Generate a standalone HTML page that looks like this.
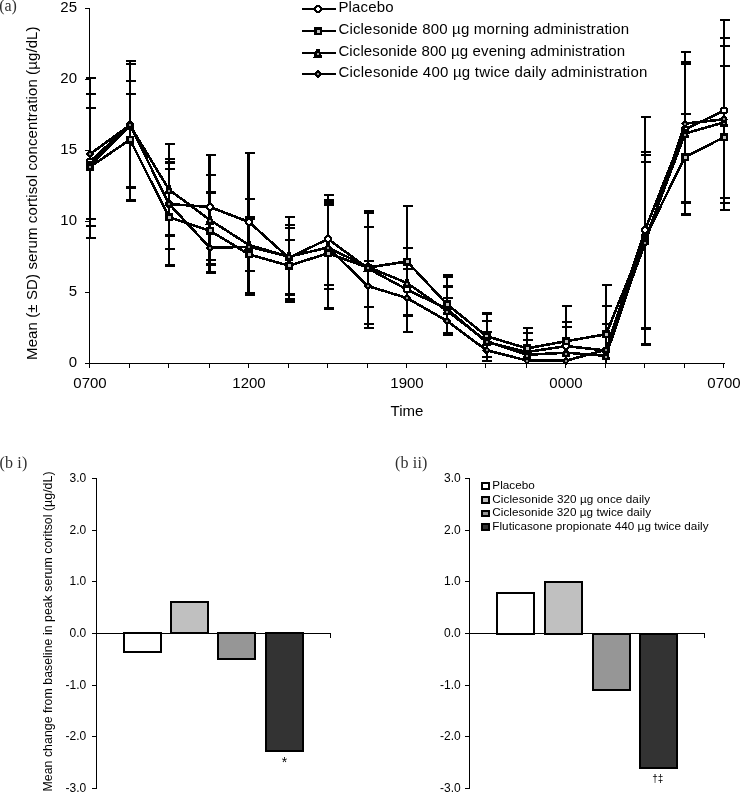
<!DOCTYPE html>
<html><head><meta charset="utf-8"><style>
html,body{margin:0;padding:0;background:#fff;overflow:hidden;}
svg{display:block;will-change:transform;} line,polyline,rect,circle,path{shape-rendering:crispEdges;}
text{font-family:"Liberation Sans",sans-serif;fill:#000;}
.s15{font-size:15px;}
.s12{font-size:12.3px;}
.s11{font-size:11.7px;}
.s10{font-size:10px;}
.s12t{font-size:12px;}
.star{font-size:14px;}
.lg{font-size:15px;}
.serif{font-family:"Liberation Serif",serif;font-size:16px;fill:#303030;}
</style></head><body>
<svg width="740" height="793" viewBox="0 0 740 793">
<g stroke="#000" stroke-width="1" fill="none">
<line x1="89.5" y1="8" x2="89.5" y2="364"/>
<line x1="85" y1="363.5" x2="725" y2="363.5"/>
<line x1="85" y1="363.5" x2="89.5" y2="363.5"/>
<line x1="85" y1="292.5" x2="89.5" y2="292.5"/>
<line x1="85" y1="221.5" x2="89.5" y2="221.5"/>
<line x1="85" y1="150.5" x2="89.5" y2="150.5"/>
<line x1="85" y1="79.5" x2="89.5" y2="79.5"/>
<line x1="85" y1="8.5" x2="89.5" y2="8.5"/>
<line x1="89.5" y1="363.5" x2="89.5" y2="368"/>
<line x1="129.5" y1="363.5" x2="129.5" y2="368"/>
<line x1="168.5" y1="363.5" x2="168.5" y2="368"/>
<line x1="209.5" y1="363.5" x2="209.5" y2="368"/>
<line x1="248.5" y1="363.5" x2="248.5" y2="368"/>
<line x1="288.5" y1="363.5" x2="288.5" y2="368"/>
<line x1="327.5" y1="363.5" x2="327.5" y2="368"/>
<line x1="367.5" y1="363.5" x2="367.5" y2="368"/>
<line x1="406.5" y1="363.5" x2="406.5" y2="368"/>
<line x1="446.5" y1="363.5" x2="446.5" y2="368"/>
<line x1="485.5" y1="363.5" x2="485.5" y2="368"/>
<line x1="526.5" y1="363.5" x2="526.5" y2="368"/>
<line x1="565.5" y1="363.5" x2="565.5" y2="368"/>
<line x1="605.5" y1="363.5" x2="605.5" y2="368"/>
<line x1="644.5" y1="363.5" x2="644.5" y2="368"/>
<line x1="684.5" y1="363.5" x2="684.5" y2="368"/>
<line x1="723.5" y1="363.5" x2="723.5" y2="368"/>
</g>
<g stroke="#000" stroke-width="2" fill="none">
<line x1="90" y1="77.9" x2="90" y2="237.8"/>
<line x1="85.5" y1="77.9" x2="95.5" y2="77.9"/>
<line x1="85.5" y1="93.9" x2="95.5" y2="93.9"/>
<line x1="85.5" y1="107.9" x2="95.5" y2="107.9"/>
<line x1="85.5" y1="218.9" x2="95.5" y2="218.9"/>
<line x1="85.5" y1="225.9" x2="95.5" y2="225.9"/>
<line x1="85.5" y1="237.8" x2="95.5" y2="237.8"/>
<line x1="130" y1="60.7" x2="130" y2="201"/>
<line x1="125.5" y1="60.7" x2="135.5" y2="60.7"/>
<line x1="125.5" y1="63.8" x2="135.5" y2="63.8"/>
<line x1="125.5" y1="81" x2="135.5" y2="81"/>
<line x1="125.5" y1="93.9" x2="135.5" y2="93.9"/>
<line x1="125.5" y1="187.1" x2="135.5" y2="187.1"/>
<line x1="125.5" y1="188.1" x2="135.5" y2="188.1"/>
<line x1="125.5" y1="200" x2="135.5" y2="200"/>
<line x1="125.5" y1="201" x2="135.5" y2="201"/>
<line x1="169" y1="143.8" x2="169" y2="265.9"/>
<line x1="164.5" y1="143.8" x2="174.5" y2="143.8"/>
<line x1="164.5" y1="158.8" x2="174.5" y2="158.8"/>
<line x1="164.5" y1="162.3" x2="174.5" y2="162.3"/>
<line x1="164.5" y1="163.3" x2="174.5" y2="163.3"/>
<line x1="164.5" y1="168.9" x2="174.5" y2="168.9"/>
<line x1="164.5" y1="234.8" x2="174.5" y2="234.8"/>
<line x1="164.5" y1="235.8" x2="174.5" y2="235.8"/>
<line x1="164.5" y1="249.1" x2="174.5" y2="249.1"/>
<line x1="164.5" y1="264.9" x2="174.5" y2="264.9"/>
<line x1="164.5" y1="265.9" x2="174.5" y2="265.9"/>
<line x1="209.5" y1="154.9" x2="209.5" y2="272.8" stroke-width="3"/>
<line x1="205.5" y1="154.9" x2="215.5" y2="154.9"/>
<line x1="205.5" y1="174.9" x2="215.5" y2="174.9"/>
<line x1="205.5" y1="191.8" x2="215.5" y2="191.8"/>
<line x1="205.5" y1="192.8" x2="215.5" y2="192.8"/>
<line x1="205.5" y1="259.9" x2="215.5" y2="259.9"/>
<line x1="205.5" y1="263.9" x2="215.5" y2="263.9"/>
<line x1="205.5" y1="264.9" x2="215.5" y2="264.9"/>
<line x1="205.5" y1="271.8" x2="215.5" y2="271.8"/>
<line x1="205.5" y1="272.8" x2="215.5" y2="272.8"/>
<line x1="248.5" y1="152.9" x2="248.5" y2="295" stroke-width="3"/>
<line x1="244.5" y1="152.9" x2="254.5" y2="152.9"/>
<line x1="244.5" y1="198.8" x2="254.5" y2="198.8"/>
<line x1="244.5" y1="217" x2="254.5" y2="217"/>
<line x1="244.5" y1="219" x2="254.5" y2="219"/>
<line x1="244.5" y1="270.9" x2="254.5" y2="270.9"/>
<line x1="244.5" y1="293" x2="254.5" y2="293"/>
<line x1="244.5" y1="294" x2="254.5" y2="294"/>
<line x1="244.5" y1="295" x2="254.5" y2="295"/>
<line x1="289" y1="216.9" x2="289" y2="302"/>
<line x1="284.5" y1="216.9" x2="294.5" y2="216.9"/>
<line x1="284.5" y1="224.9" x2="294.5" y2="224.9"/>
<line x1="284.5" y1="227.9" x2="294.5" y2="227.9"/>
<line x1="284.5" y1="240" x2="294.5" y2="240"/>
<line x1="284.5" y1="293.9" x2="294.5" y2="293.9"/>
<line x1="284.5" y1="294.9" x2="294.5" y2="294.9"/>
<line x1="284.5" y1="299" x2="294.5" y2="299"/>
<line x1="284.5" y1="300.5" x2="294.5" y2="300.5"/>
<line x1="284.5" y1="302" x2="294.5" y2="302"/>
<line x1="328" y1="194.7" x2="328" y2="308.9"/>
<line x1="323.5" y1="194.7" x2="333.5" y2="194.7"/>
<line x1="323.5" y1="200" x2="333.5" y2="200"/>
<line x1="323.5" y1="202" x2="333.5" y2="202"/>
<line x1="323.5" y1="204" x2="333.5" y2="204"/>
<line x1="323.5" y1="205" x2="333.5" y2="205"/>
<line x1="323.5" y1="285" x2="333.5" y2="285"/>
<line x1="323.5" y1="288.9" x2="333.5" y2="288.9"/>
<line x1="323.5" y1="307.9" x2="333.5" y2="307.9"/>
<line x1="323.5" y1="308.9" x2="333.5" y2="308.9"/>
<line x1="368" y1="211" x2="368" y2="327.9"/>
<line x1="363.5" y1="211" x2="373.5" y2="211"/>
<line x1="363.5" y1="212.5" x2="373.5" y2="212.5"/>
<line x1="363.5" y1="227" x2="373.5" y2="227"/>
<line x1="363.5" y1="261.1" x2="373.5" y2="261.1"/>
<line x1="363.5" y1="306.9" x2="373.5" y2="306.9"/>
<line x1="363.5" y1="323.5" x2="373.5" y2="323.5"/>
<line x1="363.5" y1="327.9" x2="373.5" y2="327.9"/>
<line x1="407" y1="206.4" x2="407" y2="332.1"/>
<line x1="402.5" y1="206.4" x2="412.5" y2="206.4"/>
<line x1="402.5" y1="248.4" x2="412.5" y2="248.4"/>
<line x1="402.5" y1="268.9" x2="412.5" y2="268.9"/>
<line x1="402.5" y1="314.5" x2="412.5" y2="314.5"/>
<line x1="402.5" y1="316" x2="412.5" y2="316"/>
<line x1="402.5" y1="332.1" x2="412.5" y2="332.1"/>
<line x1="447" y1="275" x2="447" y2="335"/>
<line x1="442.5" y1="275" x2="452.5" y2="275"/>
<line x1="442.5" y1="277" x2="452.5" y2="277"/>
<line x1="442.5" y1="285.9" x2="452.5" y2="285.9"/>
<line x1="442.5" y1="286.9" x2="452.5" y2="286.9"/>
<line x1="442.5" y1="298" x2="452.5" y2="298"/>
<line x1="442.5" y1="333" x2="452.5" y2="333"/>
<line x1="442.5" y1="335" x2="452.5" y2="335"/>
<line x1="486.5" y1="312.8" x2="486.5" y2="361.1"/>
<line x1="482" y1="312.8" x2="492" y2="312.8"/>
<line x1="482" y1="313.8" x2="492" y2="313.8"/>
<line x1="482" y1="320.9" x2="492" y2="320.9"/>
<line x1="482" y1="331.9" x2="492" y2="331.9"/>
<line x1="482" y1="357.3" x2="492" y2="357.3"/>
<line x1="482" y1="361.1" x2="492" y2="361.1"/>
<line x1="527" y1="327.9" x2="527" y2="363.2"/>
<line x1="522.5" y1="327.9" x2="532.5" y2="327.9"/>
<line x1="522.5" y1="332.9" x2="532.5" y2="332.9"/>
<line x1="522.5" y1="339.8" x2="532.5" y2="339.8"/>
<line x1="566" y1="305.9" x2="566" y2="363.2"/>
<line x1="561.5" y1="305.9" x2="571.5" y2="305.9"/>
<line x1="561.5" y1="322" x2="571.5" y2="322"/>
<line x1="561.5" y1="326.9" x2="571.5" y2="326.9"/>
<line x1="606" y1="285" x2="606" y2="363.2"/>
<line x1="601.5" y1="285" x2="611.5" y2="285"/>
<line x1="601.5" y1="305.8" x2="611.5" y2="305.8"/>
<line x1="601.5" y1="323.5" x2="611.5" y2="323.5"/>
<line x1="645" y1="116.8" x2="645" y2="344.8"/>
<line x1="640.5" y1="116.8" x2="650.5" y2="116.8"/>
<line x1="640.5" y1="151.9" x2="650.5" y2="151.9"/>
<line x1="640.5" y1="154.7" x2="650.5" y2="154.7"/>
<line x1="640.5" y1="162" x2="650.5" y2="162"/>
<line x1="640.5" y1="328" x2="650.5" y2="328"/>
<line x1="640.5" y1="329" x2="650.5" y2="329"/>
<line x1="640.5" y1="343.8" x2="650.5" y2="343.8"/>
<line x1="640.5" y1="344.8" x2="650.5" y2="344.8"/>
<line x1="685" y1="51.8" x2="685" y2="215"/>
<line x1="680.5" y1="51.8" x2="690.5" y2="51.8"/>
<line x1="680.5" y1="62.3" x2="690.5" y2="62.3"/>
<line x1="680.5" y1="63.9" x2="690.5" y2="63.9"/>
<line x1="680.5" y1="113.9" x2="690.5" y2="113.9"/>
<line x1="680.5" y1="201.9" x2="690.5" y2="201.9"/>
<line x1="680.5" y1="202.9" x2="690.5" y2="202.9"/>
<line x1="680.5" y1="214" x2="690.5" y2="214"/>
<line x1="680.5" y1="215" x2="690.5" y2="215"/>
<line x1="724" y1="20" x2="724" y2="210"/>
<line x1="719.5" y1="20" x2="729.5" y2="20"/>
<line x1="719.5" y1="38" x2="729.5" y2="38"/>
<line x1="719.5" y1="45.9" x2="729.5" y2="45.9"/>
<line x1="719.5" y1="66" x2="729.5" y2="66"/>
<line x1="719.5" y1="197.9" x2="729.5" y2="197.9"/>
<line x1="719.5" y1="202.8" x2="729.5" y2="202.8"/>
<line x1="719.5" y1="210" x2="729.5" y2="210"/>
</g>
<polyline points="90,161.5 130,125 169,204 210,207 249,222 289,258 328,238.9 368,268.5 407,289.5 447,309 486.5,342 527,352 566,346.1 606,350.5 645,230 685,129.5 724,110.5" stroke="#000" stroke-width="2.6" fill="none" stroke-linejoin="round"/>
<circle cx="90" cy="161.5" r="4" fill="#000"/><circle cx="90" cy="161.5" r="1.9" fill="#fff"/>
<circle cx="130" cy="125" r="4" fill="#000"/><circle cx="130" cy="125" r="1.9" fill="#fff"/>
<circle cx="169" cy="204" r="4" fill="#000"/><circle cx="169" cy="204" r="1.9" fill="#fff"/>
<circle cx="210" cy="207" r="4" fill="#000"/><circle cx="210" cy="207" r="1.9" fill="#fff"/>
<circle cx="249" cy="222" r="4" fill="#000"/><circle cx="249" cy="222" r="1.9" fill="#fff"/>
<circle cx="289" cy="258" r="4" fill="#000"/><circle cx="289" cy="258" r="1.9" fill="#fff"/>
<circle cx="328" cy="238.9" r="4" fill="#000"/><circle cx="328" cy="238.9" r="1.9" fill="#fff"/>
<circle cx="368" cy="268.5" r="4" fill="#000"/><circle cx="368" cy="268.5" r="1.9" fill="#fff"/>
<circle cx="407" cy="289.5" r="4" fill="#000"/><circle cx="407" cy="289.5" r="1.9" fill="#fff"/>
<circle cx="447" cy="309" r="4" fill="#000"/><circle cx="447" cy="309" r="1.9" fill="#fff"/>
<circle cx="486.5" cy="342" r="4" fill="#000"/><circle cx="486.5" cy="342" r="1.9" fill="#fff"/>
<circle cx="527" cy="352" r="4" fill="#000"/><circle cx="527" cy="352" r="1.9" fill="#fff"/>
<circle cx="566" cy="346.1" r="4" fill="#000"/><circle cx="566" cy="346.1" r="1.9" fill="#fff"/>
<circle cx="606" cy="350.5" r="4" fill="#000"/><circle cx="606" cy="350.5" r="1.9" fill="#fff"/>
<circle cx="645" cy="230" r="4" fill="#000"/><circle cx="645" cy="230" r="1.9" fill="#fff"/>
<circle cx="685" cy="129.5" r="4" fill="#000"/><circle cx="685" cy="129.5" r="1.9" fill="#fff"/>
<circle cx="724" cy="110.5" r="4" fill="#000"/><circle cx="724" cy="110.5" r="1.9" fill="#fff"/>
<polyline points="90,167 130,139.6 169,217.2 210,230.7 249,254.4 289,265.7 328,253.3 368,267.5 407,261.5 447,304.2 486.5,336.1 527,348.4 566,341.2 606,334.3 645,238 685,157.1 724,137.2" stroke="#000" stroke-width="2.6" fill="none" stroke-linejoin="round"/>
<rect x="86" y="163" width="8" height="8" fill="#000"/><rect x="88.5" y="165.5" width="3" height="3" fill="#c0c0c0"/>
<rect x="126" y="135.6" width="8" height="8" fill="#000"/><rect x="128.5" y="138.1" width="3" height="3" fill="#c0c0c0"/>
<rect x="165" y="213.2" width="8" height="8" fill="#000"/><rect x="167.5" y="215.7" width="3" height="3" fill="#c0c0c0"/>
<rect x="206" y="226.7" width="8" height="8" fill="#000"/><rect x="208.5" y="229.2" width="3" height="3" fill="#c0c0c0"/>
<rect x="245" y="250.4" width="8" height="8" fill="#000"/><rect x="247.5" y="252.9" width="3" height="3" fill="#c0c0c0"/>
<rect x="285" y="261.7" width="8" height="8" fill="#000"/><rect x="287.5" y="264.2" width="3" height="3" fill="#c0c0c0"/>
<rect x="324" y="249.3" width="8" height="8" fill="#000"/><rect x="326.5" y="251.8" width="3" height="3" fill="#c0c0c0"/>
<rect x="364" y="263.5" width="8" height="8" fill="#000"/><rect x="366.5" y="266" width="3" height="3" fill="#c0c0c0"/>
<rect x="403" y="257.5" width="8" height="8" fill="#000"/><rect x="405.5" y="260" width="3" height="3" fill="#c0c0c0"/>
<rect x="443" y="300.2" width="8" height="8" fill="#000"/><rect x="445.5" y="302.7" width="3" height="3" fill="#c0c0c0"/>
<rect x="482.5" y="332.1" width="8" height="8" fill="#000"/><rect x="485" y="334.6" width="3" height="3" fill="#c0c0c0"/>
<rect x="523" y="344.4" width="8" height="8" fill="#000"/><rect x="525.5" y="346.9" width="3" height="3" fill="#c0c0c0"/>
<rect x="562" y="337.2" width="8" height="8" fill="#000"/><rect x="564.5" y="339.7" width="3" height="3" fill="#c0c0c0"/>
<rect x="602" y="330.3" width="8" height="8" fill="#000"/><rect x="604.5" y="332.8" width="3" height="3" fill="#c0c0c0"/>
<rect x="641" y="234" width="8" height="8" fill="#000"/><rect x="643.5" y="236.5" width="3" height="3" fill="#c0c0c0"/>
<rect x="681" y="153.1" width="8" height="8" fill="#000"/><rect x="683.5" y="155.6" width="3" height="3" fill="#c0c0c0"/>
<rect x="720" y="133.2" width="8" height="8" fill="#000"/><rect x="722.5" y="135.7" width="3" height="3" fill="#c0c0c0"/>
<polyline points="90,165.5 130,125.5 169,189.6 210,220 249,245 289,256.7 328,247.5 368,267 407,283 447,310.8 486.5,341.2 527,354.8 566,352.7 606,355.8 645,240 685,133.6 724,122.3" stroke="#000" stroke-width="2.6" fill="none" stroke-linejoin="round"/>
<path d="M88.5,161 L91.5,161 L94.5,170 L85.5,170Z" fill="#000"/><rect x="89" y="165.5" width="2" height="2" fill="#a0a0a0"/>
<path d="M128.5,121 L131.5,121 L134.5,130 L125.5,130Z" fill="#000"/><rect x="129" y="125.5" width="2" height="2" fill="#a0a0a0"/>
<path d="M167.5,185.1 L170.5,185.1 L173.5,194.1 L164.5,194.1Z" fill="#000"/><rect x="168" y="189.6" width="2" height="2" fill="#a0a0a0"/>
<path d="M208.5,215.5 L211.5,215.5 L214.5,224.5 L205.5,224.5Z" fill="#000"/><rect x="209" y="220" width="2" height="2" fill="#a0a0a0"/>
<path d="M247.5,240.5 L250.5,240.5 L253.5,249.5 L244.5,249.5Z" fill="#000"/><rect x="248" y="245" width="2" height="2" fill="#a0a0a0"/>
<path d="M287.5,252.2 L290.5,252.2 L293.5,261.2 L284.5,261.2Z" fill="#000"/><rect x="288" y="256.7" width="2" height="2" fill="#a0a0a0"/>
<path d="M326.5,243 L329.5,243 L332.5,252 L323.5,252Z" fill="#000"/><rect x="327" y="247.5" width="2" height="2" fill="#a0a0a0"/>
<path d="M366.5,262.5 L369.5,262.5 L372.5,271.5 L363.5,271.5Z" fill="#000"/><rect x="367" y="267" width="2" height="2" fill="#a0a0a0"/>
<path d="M405.5,278.5 L408.5,278.5 L411.5,287.5 L402.5,287.5Z" fill="#000"/><rect x="406" y="283" width="2" height="2" fill="#a0a0a0"/>
<path d="M445.5,306.3 L448.5,306.3 L451.5,315.3 L442.5,315.3Z" fill="#000"/><rect x="446" y="310.8" width="2" height="2" fill="#a0a0a0"/>
<path d="M485,336.7 L488,336.7 L491,345.7 L482,345.7Z" fill="#000"/><rect x="485.5" y="341.2" width="2" height="2" fill="#a0a0a0"/>
<path d="M525.5,350.3 L528.5,350.3 L531.5,359.3 L522.5,359.3Z" fill="#000"/><rect x="526" y="354.8" width="2" height="2" fill="#a0a0a0"/>
<path d="M564.5,348.2 L567.5,348.2 L570.5,357.2 L561.5,357.2Z" fill="#000"/><rect x="565" y="352.7" width="2" height="2" fill="#a0a0a0"/>
<path d="M604.5,351.3 L607.5,351.3 L610.5,360.3 L601.5,360.3Z" fill="#000"/><rect x="605" y="355.8" width="2" height="2" fill="#a0a0a0"/>
<path d="M643.5,235.5 L646.5,235.5 L649.5,244.5 L640.5,244.5Z" fill="#000"/><rect x="644" y="240" width="2" height="2" fill="#a0a0a0"/>
<path d="M683.5,129.1 L686.5,129.1 L689.5,138.1 L680.5,138.1Z" fill="#000"/><rect x="684" y="133.6" width="2" height="2" fill="#a0a0a0"/>
<path d="M722.5,117.8 L725.5,117.8 L728.5,126.8 L719.5,126.8Z" fill="#000"/><rect x="723" y="122.3" width="2" height="2" fill="#a0a0a0"/>
<polyline points="90,154.1 130,125 169,203.9 210,247.8 249,246.8 289,256.7 328,247.5 368,286.1 407,298 447,321 486.5,350.3 527,360.5 566,360.7 606,349.8 645,243.2 685,123.6 724,119.3" stroke="#000" stroke-width="2.6" fill="none" stroke-linejoin="round"/>
<path d="M90,149.6 L94.2,154.1 L90,158.6 L85.8,154.1Z" fill="#000"/><rect x="89" y="153.1" width="2" height="2" fill="#909090"/>
<path d="M130,120.5 L134.2,125 L130,129.5 L125.8,125Z" fill="#000"/><rect x="129" y="124" width="2" height="2" fill="#909090"/>
<path d="M169,199.4 L173.2,203.9 L169,208.4 L164.8,203.9Z" fill="#000"/><rect x="168" y="202.9" width="2" height="2" fill="#909090"/>
<path d="M210,243.3 L214.2,247.8 L210,252.3 L205.8,247.8Z" fill="#000"/><rect x="209" y="246.8" width="2" height="2" fill="#909090"/>
<path d="M249,242.3 L253.2,246.8 L249,251.3 L244.8,246.8Z" fill="#000"/><rect x="248" y="245.8" width="2" height="2" fill="#909090"/>
<path d="M289,252.2 L293.2,256.7 L289,261.2 L284.8,256.7Z" fill="#000"/><rect x="288" y="255.7" width="2" height="2" fill="#909090"/>
<path d="M328,243 L332.2,247.5 L328,252 L323.8,247.5Z" fill="#000"/><rect x="327" y="246.5" width="2" height="2" fill="#909090"/>
<path d="M368,281.6 L372.2,286.1 L368,290.6 L363.8,286.1Z" fill="#000"/><rect x="367" y="285.1" width="2" height="2" fill="#909090"/>
<path d="M407,293.5 L411.2,298 L407,302.5 L402.8,298Z" fill="#000"/><rect x="406" y="297" width="2" height="2" fill="#909090"/>
<path d="M447,316.5 L451.2,321 L447,325.5 L442.8,321Z" fill="#000"/><rect x="446" y="320" width="2" height="2" fill="#909090"/>
<path d="M486.5,345.8 L490.7,350.3 L486.5,354.8 L482.3,350.3Z" fill="#000"/><rect x="485.5" y="349.3" width="2" height="2" fill="#909090"/>
<path d="M527,356 L531.2,360.5 L527,365 L522.8,360.5Z" fill="#000"/><rect x="526" y="359.5" width="2" height="2" fill="#909090"/>
<path d="M566,356.2 L570.2,360.7 L566,365.2 L561.8,360.7Z" fill="#000"/><rect x="565" y="359.7" width="2" height="2" fill="#909090"/>
<path d="M606,345.3 L610.2,349.8 L606,354.3 L601.8,349.8Z" fill="#000"/><rect x="605" y="348.8" width="2" height="2" fill="#909090"/>
<path d="M645,238.7 L649.2,243.2 L645,247.7 L640.8,243.2Z" fill="#000"/><rect x="644" y="242.2" width="2" height="2" fill="#909090"/>
<path d="M685,119.1 L689.2,123.6 L685,128.1 L680.8,123.6Z" fill="#000"/><rect x="684" y="122.6" width="2" height="2" fill="#909090"/>
<path d="M724,114.8 L728.2,119.3 L724,123.8 L719.8,119.3Z" fill="#000"/><rect x="723" y="118.3" width="2" height="2" fill="#909090"/>
<text x="77" y="366.9" text-anchor="end" class="s15">0</text>
<text x="77" y="295.9" text-anchor="end" class="s15">5</text>
<text x="77" y="224.9" text-anchor="end" class="s15">10</text>
<text x="77" y="153.9" text-anchor="end" class="s15">15</text>
<text x="77" y="82.9" text-anchor="end" class="s15">20</text>
<text x="77" y="11.9" text-anchor="end" class="s15">25</text>
<text x="90" y="388.4" text-anchor="middle" class="s15">0700</text>
<text x="249" y="388.4" text-anchor="middle" class="s15">1200</text>
<text x="407" y="388.4" text-anchor="middle" class="s15">1900</text>
<text x="566" y="388.4" text-anchor="middle" class="s15">0000</text>
<text x="724" y="388.4" text-anchor="middle" class="s15">0700</text>
<text x="407" y="416.3" text-anchor="middle" class="s15">Time</text>
<text transform="translate(37,193.2) rotate(-90)" text-anchor="middle" class="s15" textLength="333.5" lengthAdjust="spacing">Mean (± SD) serum cortisol concentration (µg/dL)</text>
<text x="-0.8" y="11" class="serif" textLength="17.6" lengthAdjust="spacing">(a)</text>
<line x1="302" y1="9" x2="336" y2="9" stroke="#000" stroke-width="2"/>
<circle cx="318" cy="9" r="4" fill="#000"/><circle cx="318" cy="9" r="1.9" fill="#fff"/>
<text x="338.4" y="11.7" class="lg" textLength="55.2" lengthAdjust="spacing">Placebo</text>
<line x1="302" y1="31" x2="336" y2="31" stroke="#000" stroke-width="2"/>
<rect x="314" y="27" width="8" height="8" fill="#000"/><rect x="316.5" y="29.5" width="3" height="3" fill="#c0c0c0"/>
<text x="338.4" y="33.7" class="lg" textLength="290.8" lengthAdjust="spacing">Ciclesonide 800 µg morning administration</text>
<line x1="302" y1="53" x2="336" y2="53" stroke="#000" stroke-width="2"/>
<path d="M316.5,48.5 L319.5,48.5 L322.5,57.5 L313.5,57.5Z" fill="#000"/><rect x="317" y="53" width="2" height="2" fill="#a0a0a0"/>
<text x="338.4" y="55.7" class="lg" textLength="286.6" lengthAdjust="spacing">Ciclesonide 800 µg evening administration</text>
<line x1="302" y1="74" x2="336" y2="74" stroke="#000" stroke-width="2"/>
<path d="M318,69.5 L322.2,74 L318,78.5 L313.8,74Z" fill="#000"/><rect x="317" y="73" width="2" height="2" fill="#909090"/>
<text x="338.4" y="76.7" class="lg" textLength="308.9" lengthAdjust="spacing">Ciclesonide 400 µg twice daily administration</text>
<g stroke="#000" stroke-width="1" fill="none">
<line x1="96.5" y1="478" x2="96.5" y2="789"/>
<line x1="92" y1="788.5" x2="96.5" y2="788.5"/>
<line x1="92" y1="736.5" x2="96.5" y2="736.5"/>
<line x1="92" y1="685.5" x2="96.5" y2="685.5"/>
<line x1="92" y1="633.5" x2="96.5" y2="633.5"/>
<line x1="92" y1="581.5" x2="96.5" y2="581.5"/>
<line x1="92" y1="530.5" x2="96.5" y2="530.5"/>
<line x1="92" y1="478.5" x2="96.5" y2="478.5"/>
</g>
<rect x="124" y="633" width="37" height="19" fill="#fff" stroke="#000" stroke-width="2"/>
<rect x="171" y="602" width="37" height="31" fill="#c0c0c0" stroke="#000" stroke-width="2"/>
<rect x="218" y="633" width="37" height="26" fill="#969696" stroke="#000" stroke-width="2"/>
<rect x="266" y="633" width="37" height="118" fill="#333" stroke="#000" stroke-width="2"/>
<g stroke="#000" stroke-width="1" fill="none"><line x1="96.5" y1="633.5" x2="330.5" y2="633.5"/><line x1="330.5" y1="633.5" x2="330.5" y2="638"/></g>
<text x="86.3" y="791.9" text-anchor="end" class="s12t">-3.0</text>
<text x="86.3" y="740.23" text-anchor="end" class="s12t">-2.0</text>
<text x="86.3" y="688.57" text-anchor="end" class="s12t">-1.0</text>
<text x="86.3" y="636.9" text-anchor="end" class="s12t">0.0</text>
<text x="86.3" y="585.23" text-anchor="end" class="s12t">1.0</text>
<text x="86.3" y="533.57" text-anchor="end" class="s12t">2.0</text>
<text x="86.3" y="481.9" text-anchor="end" class="s12t">3.0</text>
<text x="284.4" y="767.3" text-anchor="middle" class="star">*</text>
<g stroke="#000" stroke-width="1" fill="none">
<line x1="469.5" y1="478" x2="469.5" y2="789"/>
<line x1="465" y1="788.5" x2="469.5" y2="788.5"/>
<line x1="465" y1="736.5" x2="469.5" y2="736.5"/>
<line x1="465" y1="685.5" x2="469.5" y2="685.5"/>
<line x1="465" y1="633.5" x2="469.5" y2="633.5"/>
<line x1="465" y1="581.5" x2="469.5" y2="581.5"/>
<line x1="465" y1="530.5" x2="469.5" y2="530.5"/>
<line x1="465" y1="478.5" x2="469.5" y2="478.5"/>
</g>
<rect x="497" y="593" width="37" height="41" fill="#fff" stroke="#000" stroke-width="2"/>
<rect x="545" y="582" width="37" height="52" fill="#c0c0c0" stroke="#000" stroke-width="2"/>
<rect x="593" y="634" width="37" height="56" fill="#969696" stroke="#000" stroke-width="2"/>
<rect x="640" y="634" width="37" height="134" fill="#333" stroke="#000" stroke-width="2"/>
<g stroke="#000" stroke-width="1" fill="none"><line x1="469.5" y1="633.5" x2="704.5" y2="633.5"/><line x1="704.5" y1="633.5" x2="704.5" y2="638"/></g>
<text x="460.8" y="791.9" text-anchor="end" class="s12t">-3.0</text>
<text x="460.8" y="740.23" text-anchor="end" class="s12t">-2.0</text>
<text x="460.8" y="688.57" text-anchor="end" class="s12t">-1.0</text>
<text x="460.8" y="636.9" text-anchor="end" class="s12t">0.0</text>
<text x="460.8" y="585.23" text-anchor="end" class="s12t">1.0</text>
<text x="460.8" y="533.57" text-anchor="end" class="s12t">2.0</text>
<text x="460.8" y="481.9" text-anchor="end" class="s12t">3.0</text>
<text x="657.8" y="781.5" text-anchor="middle" class="s10">†‡</text>
<text transform="translate(52.3,631.5) rotate(-90)" text-anchor="middle" class="s12" textLength="320" lengthAdjust="spacing">Mean change from baseline in peak serum coritsol (µg/dL)</text>
<text x="-0.5" y="467.8" class="serif" textLength="27.8" lengthAdjust="spacing">(b i)</text>
<text x="395" y="467.8" class="serif" textLength="32.4" lengthAdjust="spacing">(b ii)</text>
<rect x="482.1" y="483.2" width="6.5" height="5.6" fill="#fff" stroke="#000" stroke-width="2"/>
<text x="492.3" y="489" class="s11 lg2" textLength="42.5" lengthAdjust="spacing">Placebo</text>
<rect x="482.1" y="496.9" width="6.5" height="5.6" fill="#c0c0c0" stroke="#000" stroke-width="2"/>
<text x="492.3" y="502.7" class="s11 lg2" textLength="157.8" lengthAdjust="spacing">Ciclesonide 320 µg once daily</text>
<rect x="482.1" y="510.6" width="6.5" height="5.6" fill="#969696" stroke="#000" stroke-width="2"/>
<text x="492.3" y="516.4" class="s11 lg2" textLength="158.7" lengthAdjust="spacing">Ciclesonide 320 µg twice daily</text>
<rect x="482.1" y="524.3" width="6.5" height="5.6" fill="#333" stroke="#000" stroke-width="2"/>
<text x="492.3" y="530.1" class="s11 lg2" textLength="216.2" lengthAdjust="spacing">Fluticasone propionate 440 µg twice daily</text>
</svg>
</body></html>
